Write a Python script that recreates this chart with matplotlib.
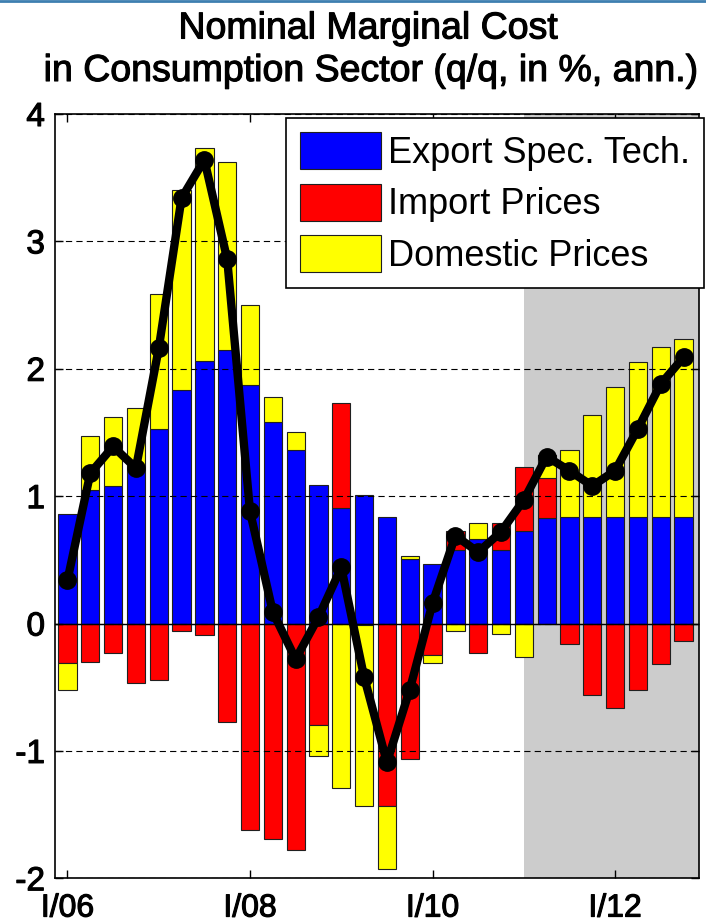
"""Nominal marginal cost in consumption sector: stacked contributions + total."""
import matplotlib
matplotlib.use("Agg")
import matplotlib.pyplot as plt
import matplotlib.patheffects as pe
from matplotlib.lines import Line2D
import numpy as np

plt.rcParams["font.family"] = ["Liberation Sans", "DejaVu Sans"]
plt.rcParams["axes.unicode_minus"] = False
plt.rcParams["lines.scale_dashes"] = False

# ── data: I/06 .. IV/12, quarterly ─────────────────────────────
TICK_LABELS = ["I/06", "I/08", "I/10", "I/12"]
TICK_QUARTERS = [1, 9, 17, 25]
FORECAST_START = 21  # I/11

export_tech = [0.86, 1.05, 1.08, 1.24, 1.53, 1.83, 2.06, 2.15, 1.87, 1.58,
               1.36, 1.09, 0.91, 1.01, 0.84, 0.51, 0.47, 0.58, 0.66, 0.58,
               0.73, 0.83, 0.84, 0.84, 0.84, 0.84, 0.84, 0.84]
import_prices = [-0.31, -0.30, -0.23, -0.47, -0.44, -0.06, -0.09, -0.77, -1.62, -1.69,
                 -1.78, -0.80, 0.82, -0.01, -1.43, -1.06, -0.25, 0.15, -0.23, 0.21,
                 0.50, 0.31, -0.16, -0.56, -0.66, -0.52, -0.32, -0.14]
domestic_prices = [-0.21, 0.42, 0.54, 0.45, 1.06, 1.57, 1.67, 1.47, 0.63, 0.20,
                   0.14, -0.24, -1.29, -1.42, -0.50, 0.02, -0.06, -0.06, 0.13, -0.08,
                   -0.26, 0.18, 0.52, 0.80, 1.02, 1.21, 1.33, 1.39]
total = [0.34, 1.18, 1.39, 1.22, 2.16, 3.34, 3.64, 2.86, 0.88, 0.09,
         -0.28, 0.05, 0.44, -0.42, -1.09, -0.52, 0.16, 0.69, 0.56, 0.72,
         0.97, 1.31, 1.20, 1.08, 1.20, 1.53, 1.88, 2.09]

SERIES = [
    ("Export Spec. Tech.", export_tech, "#0000ff"),
    ("Import Prices", import_prices, "#ff0000"),
    ("Domestic Prices", domestic_prices, "#ffff00"),
]

# slightly heavier than regular, like the reference rendering
HEAVY = [pe.withStroke(linewidth=0.8, foreground="black")]

W, H = 706, 923
fig = plt.figure(figsize=(W / 100, H / 100), dpi=100)
ax = fig.add_axes([54.7 / W, 1 - 878.3 / H, (699.3 - 54.7) / W, (878.3 - 114) / H])

x = np.arange(1, len(total) + 1)
ax.axvspan(FORECAST_START, 30, color="#cccccc", lw=0, zorder=0)

pos_bottom = np.zeros(len(x))
neg_bottom = np.zeros(len(x))
for name, vals, color in SERIES:
    vals = np.asarray(vals)
    bottom = np.where(vals >= 0, pos_bottom, neg_bottom)
    ax.bar(x, vals, width=0.8, bottom=bottom, color=color, edgecolor="#202020",
           linewidth=0.8, label=name, zorder=2)
    pos_bottom += np.where(vals >= 0, vals, 0)
    neg_bottom += np.where(vals < 0, vals, 0)

ax.axhline(0, color="black", lw=1.0, zorder=3)
ax.plot(x, total, color="black", lw=6, marker="o", ms=12.5,
        solid_joinstyle="round", zorder=5)

ax.set_xlim(0.44, 28.69)
ax.set_ylim(-2, 4)
ax.set_xticks(TICK_QUARTERS)
ax.set_xticklabels(TICK_LABELS)
ax.set_yticks(range(-2, 5))

ax.set_axisbelow(False)
ax.yaxis.grid(True, linestyle=(0, (4.5, 3)), color="black", lw=0.8)
ax.tick_params(direction="in", length=6, width=1, top=True, right=True,
               labelsize=24, colors="black")
ax.tick_params(axis="y", pad=7)
ax.tick_params(axis="x", labelsize=23, pad=11)
for lbl in ax.get_xticklabels() + ax.get_yticklabels():
    lbl.set_path_effects(HEAVY)
for sp in ax.spines.values():
    sp.set_linewidth(1.2)

leg = ax.legend(loc="upper left", bbox_to_anchor=(286 / W, 1 - 118.3 / H),
                bbox_transform=fig.transFigure, borderaxespad=0, fontsize=26,
                handlelength=2.24, handleheight=1.2, handletextpad=0.2,
                labelspacing=0.36, borderpad=0.38, fancybox=False,
                framealpha=1, edgecolor="black")
leg.get_frame().set_linewidth(1.2)

fig.text(368 / W, 1 - 38.5 / H, "Nominal Marginal Cost", ha="center",
         va="baseline", fontsize=27, path_effects=HEAVY)
fig.text(371 / W, 1 - 81 / H, "in Consumption Sector (q/q, in %, ann.)",
         ha="center", va="baseline", fontsize=27, path_effects=HEAVY)

fig.add_artist(Line2D([0, 1], [1 - 1 / H] * 2, transform=fig.transFigure,
                      color="#3d7fb0", lw=2))

fig.savefig("out.png", dpi=100)
